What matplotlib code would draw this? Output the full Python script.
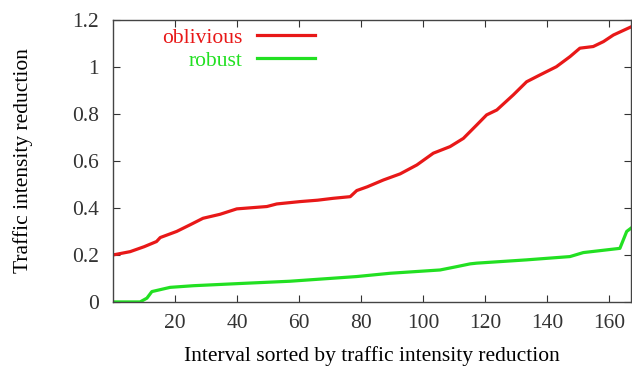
import matplotlib
matplotlib.use("Agg")
import matplotlib.pyplot as plt

# values (x = interval index, y = reduction)
oblivious_x = [0, 5.5, 10, 14, 15.2, 20.5, 24.8, 29, 34.5, 39.9, 49.6, 52.8, 60.3,
               66, 71, 76.5, 78.6, 82, 87.2, 92.6, 98, 103.3, 108.7, 113, 117.3,
               120.5, 123.8, 129.1, 133.4, 137.7, 143, 147.4, 150.6, 154.9, 158.2,
               161.4, 167]
oblivious_y = [0.20, 0.214, 0.235, 0.257, 0.274, 0.30, 0.328, 0.356, 0.373, 0.396,
               0.406, 0.417, 0.427, 0.433, 0.441, 0.448, 0.474, 0.49, 0.519, 0.545,
               0.583, 0.633, 0.661, 0.696, 0.753, 0.796, 0.817, 0.881, 0.937, 0.966,
               1.001, 1.044, 1.08, 1.087, 1.108, 1.136, 1.17]

robust_x = [0, 8.7, 10.9, 12.5, 18.4, 25.9, 42, 57, 78.6, 89.4, 105.5, 110.8,
            115.2, 117.3, 133.4, 147.4, 151.7, 163.5, 164.6, 165.7, 167]
robust_y = [0.0, 0.0, 0.016, 0.044, 0.062, 0.069, 0.079, 0.088, 0.108, 0.122,
            0.136, 0.15, 0.162, 0.165, 0.179, 0.193, 0.21, 0.228, 0.264, 0.30, 0.313]

x_ticks = [20, 40, 60, 80, 100, 120, 140, 160]
y_ticks = [0, 0.2, 0.4, 0.6, 0.8, 1.0, 1.2]
y_tick_labels = ["0", "0.2", "0.4", "0.6", "0.8", "1", "1.2"]

plt.rcParams['font.family'] = ['Liberation Serif', 'DejaVu Serif']
fs = 15.5

fig = plt.figure(figsize=(6.32, 3.70), dpi=100)
ax = fig.add_axes([0.179, 0.184, 0.819, 0.762])

red = '#e81818'
green = '#22e022'
ax.plot(oblivious_x, oblivious_y, color=red, lw=2.3, label='oblivious')
ax.plot(robust_x, robust_y, color=green, lw=2.3, label='robust')

ax.set_xlim(0, 167)
ax.set_ylim(0, 1.2)
ax.set_xticks(x_ticks)
ax.set_yticks(y_ticks)
ax.set_yticklabels(y_tick_labels)
ax.tick_params(direction='in', top=True, right=True, length=5, width=0.8,
               labelsize=fs, colors='#333333')
ax.tick_params(axis='x', pad=9)
ax.tick_params(axis='y', pad=10)
for s in ax.spines.values():
    s.set_color('#444444')
    s.set_linewidth(1.0)

ax.set_xlabel('Interval sorted by traffic intensity reduction', fontsize=fs, labelpad=9)
ax.set_ylabel('Traffic intensity reduction', fontsize=fs, labelpad=28)

leg = ax.legend(loc='upper left', bbox_to_anchor=(0.095, 0.972), frameon=False,
                markerfirst=False, fontsize=fs, handlelength=2.7,
                handletextpad=0.65, labelspacing=0.14, borderaxespad=0.0,
                borderpad=0.0)
for txt, c in zip(leg.get_texts(), [red, green]):
    txt.set_color(c)
    txt.set_ha('right')

fig.savefig('out.png', dpi=100)
